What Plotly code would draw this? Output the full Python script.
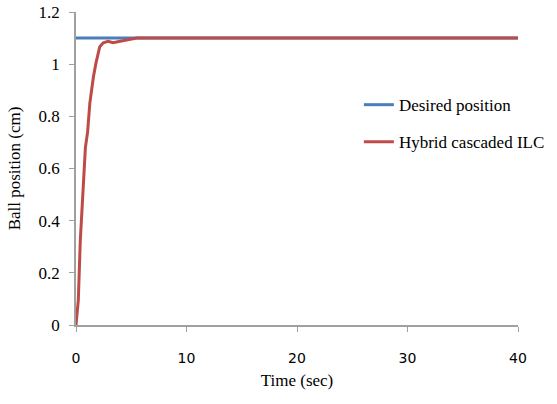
import plotly.graph_objects as go

# Desired position (reference)
t_desired = [0, 40]
y_desired = [1.1, 1.1]

# Hybrid cascaded ILC response
t_ilc = [0, 0.21, 0.39, 0.48, 0.6, 0.75, 0.85, 1.05, 1.25, 1.57, 1.8, 2.15, 2.47, 2.9, 3.35, 4.0, 4.7, 5.5, 10, 20, 30, 40]
y_ilc = [0, 0.096, 0.325, 0.40, 0.52, 0.63, 0.68, 0.74, 0.85, 0.95, 1.003, 1.067, 1.082, 1.088, 1.082, 1.088, 1.094, 1.10, 1.10, 1.10, 1.10, 1.10]

x_ticks = [0, 10, 20, 30, 40]
y_ticks = [0, 0.2, 0.4, 0.6, 0.8, 1.0, 1.2]
y_ticklabels = ["0", "0.2", "0.4", "0.6", "0.8", "1", "1.2"]

SERIF = "Liberation Serif, Times New Roman, serif"
SANS = "DejaVu Sans, Verdana, sans-serif"

fig = go.Figure()
fig.add_trace(go.Scatter(x=t_desired, y=y_desired, mode="lines", name="Desired position",
                         line=dict(color="#4a7ebb", width=3), legendgroup="a"))
fig.add_trace(go.Scatter(x=t_ilc, y=y_ilc, mode="lines", name="Hybrid cascaded ILC",
                         line=dict(color="#be4b48", width=3), legendgroup="b"))

fig.update_layout(
    width=557, height=404,
    margin=dict(l=76, r=39, t=12, b=79, autoexpand=False),
    paper_bgcolor="white", plot_bgcolor="white",
    showlegend=True,
    legend=dict(x=0.64, y=0.76, xanchor="left", yanchor="top",
                font=dict(family=SERIF, size=17, color="black"),
                traceorder="grouped", tracegroupgap=12, bgcolor="rgba(0,0,0,0)"),
    xaxis=dict(range=[0, 40], tickvals=x_ticks, showgrid=False, zeroline=False, automargin=False,
               showline=True, linecolor="#a0a0a0", linewidth=1.5,
               ticks="outside", ticklen=5, tickcolor="#a0a0a0",
               ticklabelstandoff=14,
               tickfont=dict(family=SANS, size=14, color="black"),
               title=dict(text="Time (sec)", font=dict(family=SERIF, size=17, color="black"), standoff=10)),
    yaxis=dict(range=[0, 1.2], tickvals=y_ticks, ticktext=y_ticklabels, showgrid=False, zeroline=False, automargin=False,
               showline=True, linecolor="#a0a0a0", linewidth=1.5,
               ticks="outside", ticklen=5, tickcolor="#a0a0a0",
               ticklabelstandoff=6,
               tickfont=dict(family=SERIF, size=17, color="black"),
               title=dict(text="Ball position (cm)", font=dict(family=SERIF, size=17, color="black"), standoff=14)),
)

fig.write_html("out.html")
